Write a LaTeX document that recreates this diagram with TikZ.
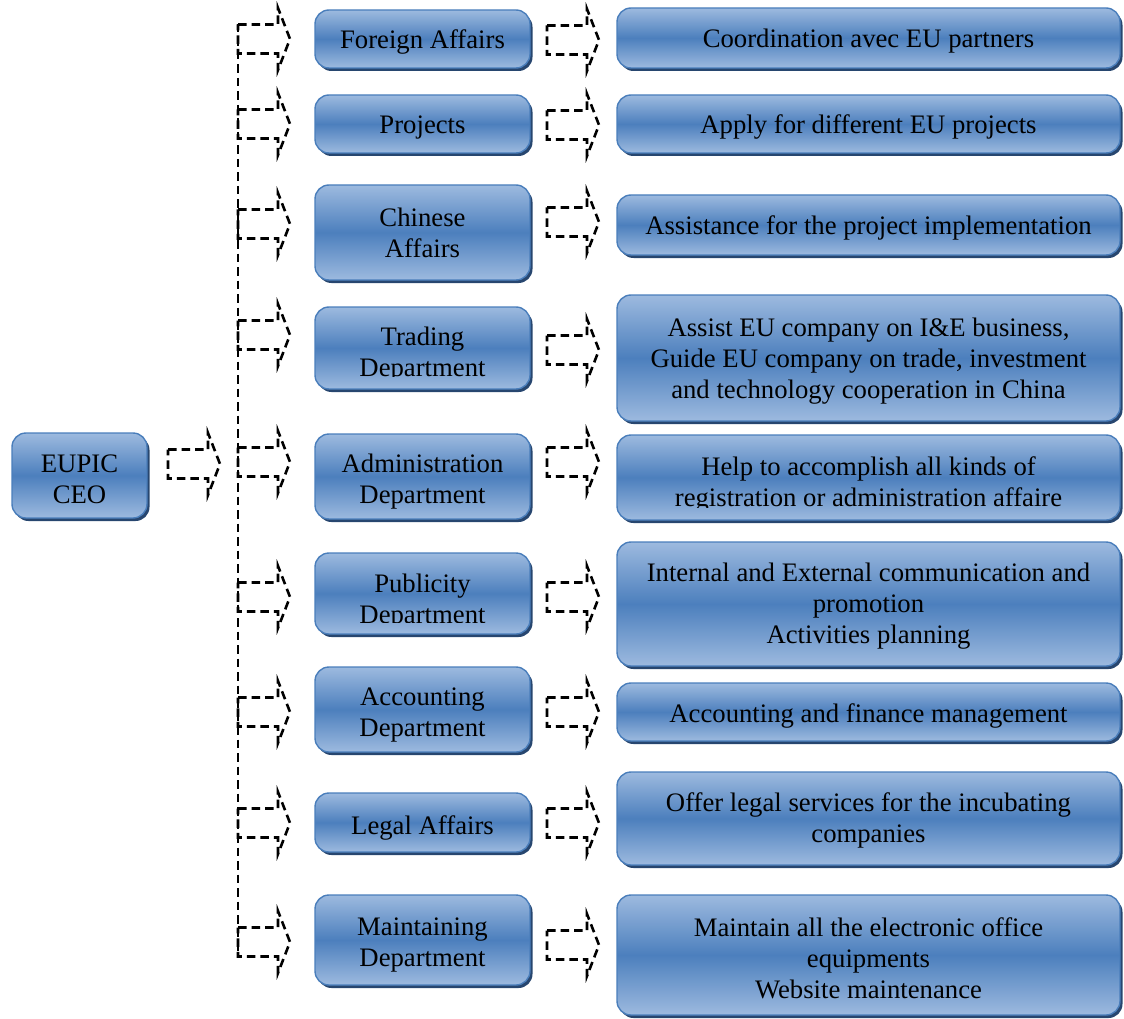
\documentclass[tikz,border=0pt]{standalone}
\usepackage{fontspec}
\setmainfont{Liberation Serif}
\usetikzlibrary{shadows}
\definecolor{boxlight}{HTML}{9DBADF}
\definecolor{boxmid}{HTML}{4C7FBD}
\definecolor{boxline}{HTML}{4A7EBB}
\definecolor{boxshade}{HTML}{27466F}

\begin{document}
\begin{tikzpicture}[x=1pt,y=-1pt,
  font=\fontsize{26.7}{31}\selectfont,
  orgbox/.style={rectangle, rounded corners=14pt, draw=boxline, line width=1.4pt,
    top color=boxlight, bottom color=boxlight, middle color=boxmid,
    general shadow={fill=boxshade, shadow xshift=2.5pt, shadow yshift=-3pt},
    inner sep=0pt},
  ceobox/.style={orgbox, minimum width=135pt},
  unitbox/.style={orgbox, minimum width=215pt},
  taskbox/.style={orgbox, minimum width=503pt},
  boxtext/.style={align=center, inner sep=0pt, text=black},
  dashline/.style={line width=2.6pt, dash pattern=on 8.5pt off 5pt},
  blockarrow/.pic={
    \draw[dashline] (0,-14.5) -- (40,-14.5) -- (40,-31) -- (52,0)
      -- (40,31) -- (40,14.5) -- (0,14.5) -- cycle;}
]
\useasboundingbox (0,0) rectangle (1124,1019);

% head of the organisation
\node[ceobox, minimum height=85pt] (ceo) at (79.5,475.5) {};
\node[boxtext] (ceotext) at (79.5,479.5) {EUPIC\\CEO};
\pic (ceoarrow) at (168,464) {blockarrow};

% trunk line feeding the departments
\coordinate (trunktop) at (238,24);
\coordinate (trunkbot) at (238,958);
\draw[dashline] (trunktop) -- (trunkbot);

% departments
\node[unitbox, minimum height=58pt] (foreign) at (422.5,39) {};
\node[boxtext] (foreigntext) at (422.5,42) {Foreign Affairs};
\node[unitbox, minimum height=58pt] (projects) at (422.5,124) {};
\node[boxtext] (projectstext) at (422.5,128) {Projects};
\node[unitbox, minimum height=95pt] (chinese) at (422.5,232.5) {};
\node[boxtext] (chinesetext) at (422.5,232.5) {Chinese\\Affairs};
\node[unitbox, minimum height=82pt] (trading) at (422.5,348) {};
\begin{scope}
  \clip (310,300) rectangle (540,376.5);
  \node[boxtext] (tradingtext) at (422.5,355) {Trading\\Department};
\end{scope}
\node[unitbox, minimum height=85pt] (admin) at (422.5,476.5) {};
\node[boxtext] (admintext) at (422.5,481.5) {Administration\\Department};
\node[unitbox, minimum height=81pt] (publicity) at (422.5,593.5) {};
\begin{scope}
  \clip (310,545) rectangle (540,622.5);
  \node[boxtext] (publicitytext) at (422.5,601.5) {Publicity\\Department};
\end{scope}
\node[unitbox, minimum height=85pt] (accounting) at (422.5,709.5) {};
\node[boxtext] (accountingtext) at (422.5,714.5) {Accounting\\Department};
\node[unitbox, minimum height=59pt] (legal) at (422.5,822.5) {};
\node[boxtext] (legaltext) at (422.5,827.5) {Legal Affairs};
\node[unitbox, minimum height=90pt] (maintaining) at (422.5,940) {};
\node[boxtext] (maintainingtext) at (422.5,945) {Maintaining\\Department};

% arrows from the trunk to each department
\foreach \y/\n in {39/a1,124/a2,224/a3,335/a4,462/a5,597/a6,712/a7,823/a8,942/a9}
  \pic (\n) at (238,\y) {blockarrow};

% tasks of each department
\node[taskbox, minimum height=60pt] (taskforeign) at (868.5,38) {};
\node[boxtext] (taskforeigntext) at (868.5,41) {Coordination avec EU partners};
\node[taskbox, minimum height=58pt] (taskprojects) at (868.5,124) {};
\node[boxtext] (taskprojectstext) at (868.5,127) {Apply for different EU projects};
\node[taskbox, minimum height=60pt] (taskchinese) at (868.5,225) {};
\node[boxtext] (taskchinesetext) at (868.5,228) {Assistance for the project implementation};
\node[taskbox, minimum height=126pt] (tasktrading) at (868.5,358) {};
\node[boxtext] (tasktradingtext) at (868.5,361) {Assist EU company on I\&E business,\\Guide EU company on trade, investment\\and technology cooperation in China};
\node[taskbox, minimum height=85pt] (taskadmin) at (868.5,477.5) {};
\begin{scope}
  \clip (610,430) rectangle (1124,507);
  \node[boxtext] (taskadmintext) at (868.5,484) {Help to accomplish all kinds of\\registration or administration affaire};
\end{scope}
\node[taskbox, minimum height=124pt] (taskpublicity) at (868.5,604) {};
\node[boxtext] (taskpublicitytext) at (868.5,606) {Internal and External communication and\\promotion\\Activities planning};
\node[taskbox, minimum height=58pt] (taskaccounting) at (868.5,712) {};
\node[boxtext] (taskaccountingtext) at (868.5,716) {Accounting and finance management};
\node[taskbox, minimum height=93pt] (tasklegal) at (868.5,818.5) {};
\node[boxtext] (tasklegaltext) at (868.5,820.5) {Offer legal services for the incubating\\companies};
\node[taskbox, minimum height=120pt] (taskmaintaining) at (868.5,955) {};
\node[boxtext] (taskmaintainingtext) at (868.5,958) {Maintain all the electronic office\\equipments\\Website maintenance};

% arrows from each department to its tasks
\foreach \y/\n in {40/b1,125/b2,222/b3,350/b4,462/b5,597/b6,712/b7,823/b8,945/b9}
  \pic (\n) at (547,\y) {blockarrow};
\end{tikzpicture}
\end{document}
